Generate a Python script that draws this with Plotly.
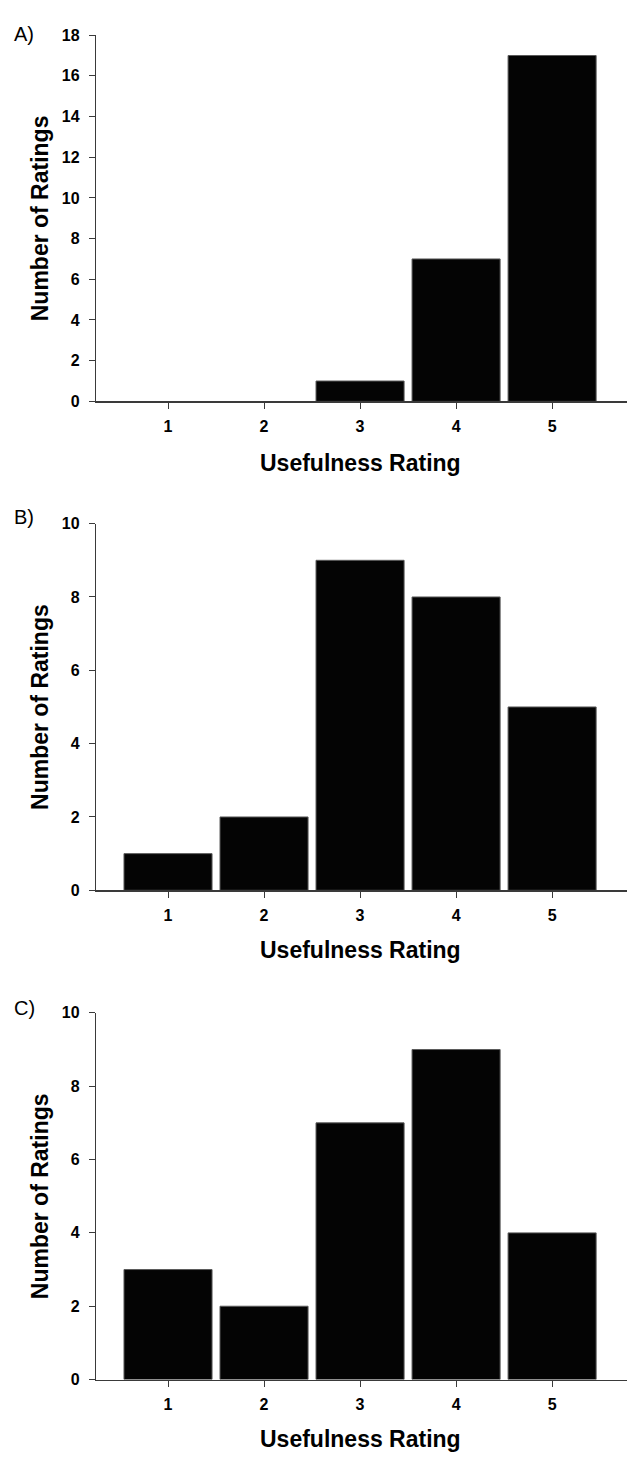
import plotly.graph_objects as go

W, H = 627, 1461

ratings = [1, 2, 3, 4, 5]
counts_a = [0, 0, 1, 7, 17]
counts_b = [1, 2, 9, 8, 5]
counts_c = [3, 2, 7, 9, 4]
panel_labels = ["A)", "B)", "C)"]
y_max = [18, 10, 10]
x_title = "Usefulness Rating"
y_title = "Number of Ratings"

FONT = "Liberation Sans, Arial, Helvetica, sans-serif"
AXIS_COLOR = "#3a3a3a"

# pixel layout of each panel: (top px of y range, bottom px = zero line)
panels = [(27.5, 398.0), (521.7, 892.7), (1016.7, 1387.7)]
x_title_y = [460, 953, 1448]
label_y = [26, 515, 1012]

def py(p):
    return 1 - p / H

def pxx(p):
    return p / W

fig = go.Figure()
series = [counts_a, counts_b, counts_c]
for i, vals in enumerate(series):
    n = "" if i == 0 else str(i + 1)
    fig.add_trace(go.Bar(
        x=ratings, y=vals, width=0.917,
        marker=dict(color="#040404",
                    line=dict(color="#5a5a5a", width=[0 if v == 0 else 1 for v in vals])),
        xaxis="x" + n, yaxis="y" + n, showlegend=False,
    ))

layout = dict(
    width=W, height=H, autosize=False,
    margin=dict(l=0, r=0, t=0, b=0),
    paper_bgcolor="white", plot_bgcolor="white",
    font=dict(family=FONT, color="black"),
    bargap=0,
    annotations=[],
)

for i in range(3):
    n = "" if i == 0 else str(i + 1)
    top, bot = panels[i]
    layout["xaxis" + n] = dict(
        domain=[pxx(96), 1], range=[0.25, 5.78], anchor="y" + n,
        tickmode="array", tickvals=ratings, ticktext=[str(r) for r in ratings],
        showline=True, linecolor=AXIS_COLOR, linewidth=1.2,
        ticks="outside", ticklen=6, tickcolor=AXIS_COLOR, tickwidth=1,
        showgrid=False, zeroline=False, fixedrange=True,
        tickfont=dict(family=FONT, size=16, weight="bold", color="black"),
        ticklabelstandoff=4,
    )
    layout["yaxis" + n] = dict(
        domain=[py(bot), py(top)], range=[0, y_max[i]], anchor="x" + n,
        tickmode="linear", tick0=0, dtick=2,
        showline=True, linecolor=AXIS_COLOR, linewidth=1.2,
        ticks="outside", ticklen=6, tickcolor=AXIS_COLOR, tickwidth=1,
        showgrid=False, zeroline=False, fixedrange=True,
        tickfont=dict(family=FONT, size=16, weight="bold", color="black"),
        ticklabelstandoff=6,
    )
    layout["annotations"].append(dict(
        text=x_title, xref="paper", yref="paper", x=pxx(360), y=py(x_title_y[i]),
        xanchor="center", yanchor="middle", showarrow=False,
        font=dict(family=FONT, size=23, weight="bold", color="black"),
    ))
    layout["annotations"].append(dict(
        text=y_title, xref="paper", yref="paper", x=pxx(40), y=py((top + bot) / 2),
        xanchor="center", yanchor="middle", showarrow=False, textangle=-90,
        font=dict(family=FONT, size=23, weight="bold", color="black"),
    ))
    layout["annotations"].append(dict(
        text=panel_labels[i], xref="paper", yref="paper", x=pxx(24), y=py(label_y[i]),
        xanchor="center", yanchor="middle", showarrow=False,
        font=dict(family=FONT, size=20, color="black"),
    ))

fig.update_layout(**layout)
fig.write_html("out.html", config={"displayModeBar": False, "staticPlot": True},
               post_script="document.body.style.margin='0';")
